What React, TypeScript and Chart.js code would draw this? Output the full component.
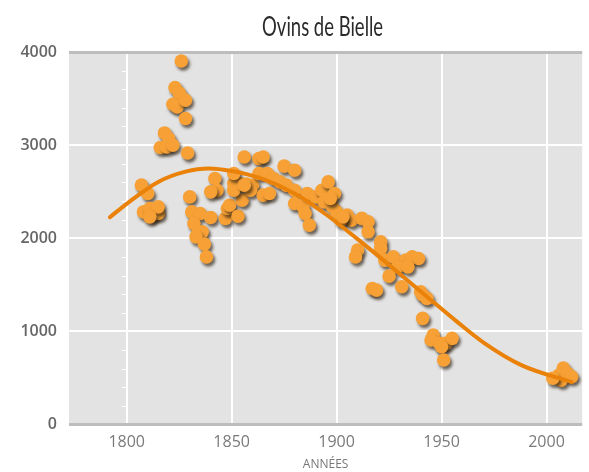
import React, { useEffect, useRef } from "react";
import { Chart, registerables } from "chart.js";

Chart.register(...registerables);

const sheepYears = [
  1826, 1823, 1825, 1826, 1822, 1824, 1828, 1828, 1818, 1820,
  1816, 1819, 1822, 1829, 1807, 1810, 1808, 1811, 1814, 1812,
  1815, 1815, 1811, 1842, 1843, 1840, 1830, 1831, 1835, 1840,
  1832, 1834, 1836, 1833, 1837, 1838, 1847, 1848, 1849, 1853,
  1855, 1851, 1854, 1857, 1860, 1851, 1859, 1856, 1863, 1865,
  1851, 1856, 1863, 1867, 1870, 1875, 1880, 1865, 1868, 1873,
  1876, 1880, 1880, 1884, 1885, 1887, 1886, 1890, 1893, 1896,
  1894, 1898, 1900, 1905, 1907, 1902, 1899, 1897, 1903, 1912,
  1915, 1915, 1921, 1921, 1910, 1909, 1923, 1927, 1933, 1936,
  1939, 1929, 1934, 1925, 1917, 1919, 1931, 1940, 1941, 1943,
  1941, 1946, 1945, 1949, 1952, 1955, 1950, 1951, 2008, 2006,
  2010, 2007, 2003, 2012,
];

const sheepCounts = [
  3904, 3618, 3560, 3517, 3439, 3410, 3482, 3286, 3131, 3071,
  2974, 2981, 2999, 2916, 2570, 2481, 2283, 2320, 2302, 2248,
  2266, 2337, 2230, 2642, 2516, 2498, 2444, 2283, 2266, 2223,
  2159, 2069, 2069, 2015, 1937, 1800, 2213, 2320, 2355, 2237,
  2409, 2588, 2588, 2581, 2570, 2516, 2516, 2873, 2856, 2873,
  2695, 2570, 2695, 2695, 2642, 2774, 2731, 2463, 2481, 2605,
  2570, 2516, 2373, 2337, 2266, 2141, 2481, 2444, 2516, 2605,
  2391, 2337, 2283, 2248, 2194, 2194, 2481, 2427, 2230, 2213,
  2176, 2069, 1961, 1891, 1872, 1800, 1765, 1800, 1765, 1800,
  1783, 1693, 1693, 1593, 1461, 1443, 1479, 1425, 1390, 1354,
  1140, 960, 907, 871, 871, 925, 835, 692, 606, 531,
  549, 477, 496, 513,
];

const trendYears = [1792, 1800, 1815, 1828, 1839, 1850, 1864, 1880, 1895, 1910, 1927, 1944, 1957, 1970, 1988, 2012];
const trendValues = [2226, 2370, 2605, 2715, 2749, 2722, 2642, 2481, 2255, 1990, 1676, 1354, 1110, 880, 638, 456];

const xTickYears = [1800, 1850, 1900, 1950, 2000];
const yTickValues = [0, 1000, 2000, 3000, 4000];

const TITLE = "Ovins de Bielle";
const X_TITLE = "ANNÉES";

const bgPlugin = {
  id: "plotBg",
  beforeDraw(chart: any) {
    const { ctx, chartArea } = chart;
    ctx.save();
    ctx.fillStyle = "#e3e3e3";
    ctx.fillRect(chartArea.left, chartArea.top, chartArea.right - chartArea.left, chartArea.bottom - chartArea.top);
    ctx.restore();
  },
  beforeDatasetsDraw(chart: any) {
    const { ctx, scales } = chart;
    const x = scales.x.getPixelForValue(1800);
    ctx.save();
    ctx.strokeStyle = "#ffffff";
    ctx.lineWidth = 1;
    for (let v = 200; v < 4000; v += 200) {
      const y = Math.round(scales.y.getPixelForValue(v)) + 0.5;
      ctx.beginPath();
      ctx.moveTo(x - 5, y);
      ctx.lineTo(x, y);
      ctx.stroke();
    }
    ctx.restore();
  },
  afterDraw(chart: any) {
    const { ctx, chartArea } = chart;
    ctx.save();
    ctx.font = "400 27px Lato, 'Open Sans', sans-serif";
    ctx.fillStyle = "#2a2a2a";
    ctx.textAlign = "center";
    ctx.textBaseline = "middle";
    const w = ctx.measureText(TITLE).width;
    const sx = w > 0 ? 121 / w : 1;
    ctx.translate((chartArea.left + chartArea.right) / 2 - 3, 27);
    ctx.scale(sx, 1);
    ctx.fillText(TITLE, 0, 0);
    ctx.restore();
  },
};

const shadowPlugin = {
  id: "pointShadow",
  beforeDatasetDraw(chart: any, args: any) {
    if (args.index !== 1) return;
    const ctx = chart.ctx;
    ctx.save();
    ctx.shadowColor = "rgba(45,30,15,0.65)";
    ctx.shadowBlur = 3;
    ctx.shadowOffsetX = 2;
    ctx.shadowOffsetY = 3;
  },
  afterDatasetDraw(chart: any, args: any) {
    if (args.index !== 1) return;
    chart.ctx.restore();
  },
};

export default function App() {
  const canvasRef = useRef<HTMLCanvasElement | null>(null);

  useEffect(() => {
    if (!canvasRef.current) return;
    const points = sheepYears.map((yr, i) => ({ x: yr, y: sheepCounts[i] }));
    const trend = trendYears.map((yr, i) => ({ x: yr, y: trendValues[i] }));

    const chart = new Chart(canvasRef.current, {
      type: "scatter",
      data: {
        datasets: [
          {
            label: "Tendance",
            data: trend,
            showLine: true,
            borderColor: "#ea820a",
            borderWidth: 4,
            borderCapStyle: "round",
            pointRadius: 0,
            cubicInterpolationMode: "monotone",
            order: 0,
          } as any,
          {
            label: "Ovins",
            data: points,
            backgroundColor: "#f6a035",
            borderColor: "#f6a035",
            borderWidth: 0,
            pointRadius: 6.8,
            order: 1,
          },
        ],
      },
      options: {
        animation: false,
        responsive: false,
        maintainAspectRatio: false,
        layout: { padding: { top: 52, left: 0, right: 0, bottom: 0 } },
        plugins: {
          legend: { display: false },
          tooltip: { enabled: false },
          title: { display: false },
        },
        scales: {
          x: {
            type: "linear",
            min: 1772.5,
            max: 2017,
            afterBuildTicks: (axis: any) => {
              axis.ticks = xTickYears.map((v) => ({ value: v }));
            },
            afterFit: (scale: any) => {
              scale.height = 47.5;
            },
            border: { display: false },
            grid: { color: "#ffffff", lineWidth: 2, drawTicks: false },
            ticks: {
              padding: 8,
              color: "#7a7a7a",
              font: { family: "'Open Sans', sans-serif", size: 16, weight: "normal" },
              callback: (v: any) => String(v),
            },
            title: {
              display: true,
              text: X_TITLE,
              color: "#777777",
              font: { family: "'Open Sans', sans-serif", size: 12 },
              padding: { top: 5, bottom: 0 },
            },
          },
          y: {
            type: "linear",
            min: 0,
            max: 4000,
            afterBuildTicks: (axis: any) => {
              axis.ticks = yTickValues.map((v) => ({ value: v }));
            },
            afterFit: (scale: any) => {
              scale.width = 69;
            },
            border: { display: false },
            grid: {
              drawTicks: false,
              color: (c: any) => (c.tick && (c.tick.value === 0 || c.tick.value === 4000) ? "#bdbdbd" : "#ffffff"),
              lineWidth: (c: any) => (c.tick && (c.tick.value === 0 || c.tick.value === 4000) ? 3 : 2),
            },
            ticks: {
              padding: 12,
              color: "#666666",
              font: { family: "'Open Sans', sans-serif", size: 16, weight: 600 },
              callback: (v: any) => String(v),
            },
          },
        },
      },
      plugins: [bgPlugin, shadowPlugin],
    });
    return () => chart.destroy();
  }, []);

  return (
    <div style={{ position: "absolute", left: 0, top: 0, width: 589, height: 472, background: "#ffffff" }}>
      <canvas ref={canvasRef} width={589} height={472} style={{ width: 589, height: 472, display: "block" }} />
    </div>
  );
}
